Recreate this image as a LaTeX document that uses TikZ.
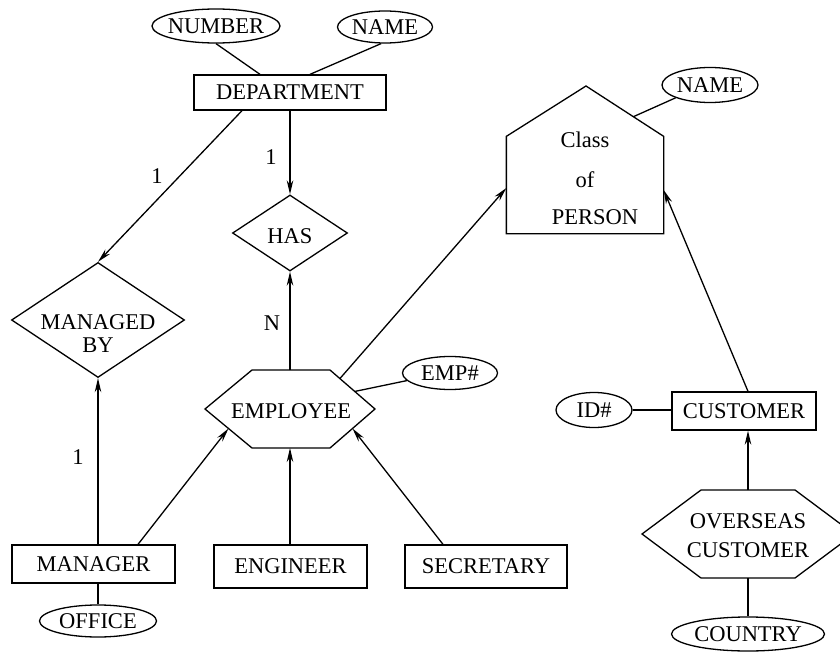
\documentclass[tikz,border=0pt]{standalone}
\usepackage{fontspec}
\setmainfont{Liberation Serif}
\usetikzlibrary{shapes.geometric,arrows.meta,calc}
\begin{document}
\begin{tikzpicture}[x=1pt,y=-1pt,line width=1.3pt,
  font=\fontsize{22.5}{24}\selectfont,
  every node/.style={inner sep=0pt},
  ent/.style={draw,rectangle},
  attr/.style={draw,ellipse},
  rel/.style={draw,diamond},
  arr/.style={-{Stealth[length=14pt,width=6.5pt,inset=4.5pt]}}]
\useasboundingbox (0,0) rectangle (840,655);

% ---------- entities ----------
\node[ent,minimum width=192pt,minimum height=35pt] (dept) at (290,92.5) {DEPARTMENT};
\node[ent,minimum width=163pt,minimum height=38pt] (mgr) at (93.5,564) {MANAGER};
\node[ent,minimum width=153pt,minimum height=43pt] (eng) at (290.5,566.5) {ENGINEER};
\node[ent,minimum width=162pt,minimum height=43pt] (sec) at (486,566.5) {SECRETARY};
\node[ent,minimum width=144pt,minimum height=38pt] (cust) at (744,411) {CUSTOMER};

% ---------- attributes ----------
\node[attr,minimum width=128pt,minimum height=34pt] (num) at (216,26) {};
\node (numt) at (num) {NUMBER};
\node[attr,minimum width=95pt,minimum height=32pt] (name1) at (385,27) {};
\node (name1t) at (name1) {NAME};
\node[attr,minimum width=95pt,minimum height=33pt] (empno) at (450,373) {};
\node (empnot) at (empno) {EMP\#};
\node[attr,minimum width=96pt,minimum height=35pt] (name2) at (710,85) {};
\node (name2t) at (name2) {NAME};
\node[attr,minimum width=76pt,minimum height=35pt] (id) at (594,410) {};
\node (idt) at (id) {ID\#};
\node[attr,minimum width=153pt,minimum height=34pt] (country) at (748,634) {};
\node (countryt) at (country) {COUNTRY};
\node[attr,minimum width=117pt,minimum height=32pt] (office) at (98,621) {};
\node (officet) at (office) {OFFICE};

% ---------- relationships ----------
\node[rel,minimum width=115pt,minimum height=76pt] (has) at (290,233) {};
\node (hast) at (290,236) {HAS};
\node[rel,minimum width=173pt,minimum height=115pt] (mb) at (98,320) {};
\node[align=center,font=\fontsize{22.5}{22.5}\selectfont] (mbt) at (98,333.5) {MANAGED\\BY};

% ---------- EMPLOYEE hexagon ----------
\coordinate (eL) at (205,409);
\coordinate (eTL) at (252,370);
\coordinate (eTR) at (330,370);
\coordinate (eR) at (375,409);
\coordinate (eBR) at (330,448);
\coordinate (eBL) at (252,448);
\draw (eL) -- (eTL) -- (eTR) -- (eR) -- (eBR) -- (eBL) -- cycle;
\node (emp) at (291,411) {EMPLOYEE};
\coordinate (eTop) at (290,370);
\coordinate (eBot) at (290,448);
\coordinate (eSW) at ($(eL)!0.5!(eBL)$);
\coordinate (eSE) at ($(eR)!0.5!(eBR)$);
\coordinate (eNE1) at ($(eTR)!0.22!(eR)$);
\coordinate (eNE2) at ($(eTR)!0.55!(eR)$);

% ---------- OVERSEAS CUSTOMER hexagon ----------
\coordinate (oL) at (642,534);
\coordinate (oTL) at (701,490);
\coordinate (oTR) at (795,490);
\coordinate (oR) at (854,534);
\coordinate (oBR) at (795,578);
\coordinate (oBL) at (701,578);
\draw (oL) -- (oTL) -- (oTR) -- (oR) -- (oBR) -- (oBL) -- cycle;
\node[align=center,font=\fontsize{22.5}{29}\selectfont] (ovs) at (748,536) {OVERSEAS\\CUSTOMER};
\coordinate (oTop) at (748,490);
\coordinate (oBot) at (748,578);

% ---------- Class of PERSON pentagon ----------
\node[minimum width=156pt,minimum height=96pt] (pb) at (585,185) {};
\coordinate (apex) at (586,86);
\draw (pb.south west) -- (pb.north west) -- (apex) -- (pb.north east) -- (pb.south east) -- cycle;
\coordinate (roof) at ($(apex)!0.61!(pb.north east)$);
\node (cls) at (585,140) {Class};
\node (of) at (585,180) {of};
\node (pers) at (595,217) {PERSON};

% ---------- connectors ----------
\draw (num.south) -- ([xshift=-30pt]dept.north);
\draw ([xshift=-4pt]name1.south) -- ([xshift=20pt]dept.north);
\draw[arr] ([xshift=-48pt]dept.south) -- (mb.north);
\draw[arr] (dept.south) -- (has.north);
\draw[arr] (eTop) -- (has.south);
\draw[arr] ([xshift=4.5pt]mgr.north) -- (mb.south);
\draw[arr] ([xshift=44.5pt]mgr.north) -- (eSW);
\draw[arr] ([xshift=-0.5pt]eng.north) -- (eBot);
\draw[arr] ([xshift=-43pt]sec.north) -- (eSE);
\draw[arr] (eNE1) -- ([yshift=-3pt]pb.west);
\draw (empno.190) -- (eNE2);
\draw (name2.south west) -- (roof);
\draw[arr] ([xshift=4pt]cust.north) -- ([yshift=-5pt]pb.east);
\draw (id.east) -- (id.east -| cust.west);
\draw[arr] (oTop) -- ([xshift=4pt]cust.south);
\draw (oBot) -- (country.north);
\draw (mgr.south -| office.north) -- (office.north);

% ---------- cardinalities ----------
\node (c1) at (157,176) {1};
\node (c2) at (271,157) {1};
\node (cN) at (272,323) {N};
\node (c3) at (78,457) {1};
\end{tikzpicture}
\end{document}
